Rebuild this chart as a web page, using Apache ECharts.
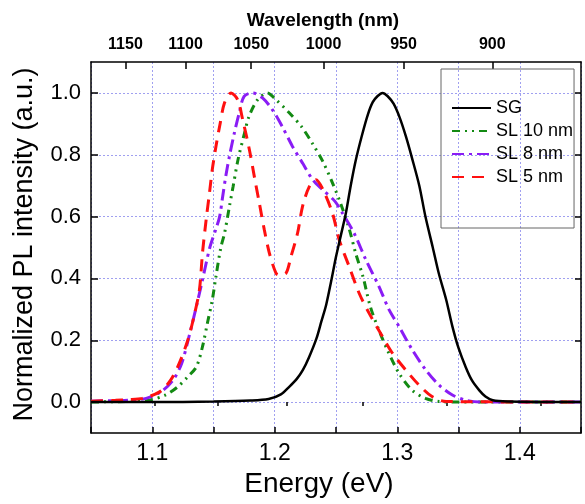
<!DOCTYPE html>
<html>
<head>
<meta charset="utf-8">
<script src="https://cdn.jsdelivr.net/npm/echarts@6/dist/echarts.min.js"></script>
<style>html,body{margin:0;padding:0;background:#fff}#c{width:585px;height:504px}</style>
</head>
<body>
<div id="c"></div>
<script>
// ---- data ----
var seriesNames = ['SG', 'SL 10 nm', 'SL 8 nm', 'SL 5 nm'];

var sgE = [1.05,1.10,1.15,1.18,1.195,1.205,1.212,1.218,1.223,1.228,1.234,1.238,1.242,1.246,1.250,1.254,1.258,1.262,1.266,1.271,1.276,1.280,1.284,1.288,1.292,1.297,1.302,1.307,1.312,1.318,1.323,1.329,1.334,1.340,1.345,1.350,1.356,1.361,1.367,1.372,1.378,1.39,1.45];
var sgI = [0.0,0.0,0.002,0.005,0.01,0.025,0.05,0.075,0.104,0.145,0.205,0.26,0.315,0.39,0.47,0.54,0.61,0.70,0.78,0.86,0.93,0.97,0.99,1.0,0.99,0.965,0.92,0.86,0.79,0.70,0.60,0.50,0.415,0.33,0.245,0.175,0.112,0.07,0.038,0.018,0.006,0.002,0.0];

var sl10E = [1.05,1.08,1.09,1.098,1.111,1.121,1.129,1.136,1.141,1.145,1.149,1.152,1.156,1.159,1.163,1.166,1.170,1.175,1.179,1.186,1.194,1.201,1.212,1.222,1.231,1.239,1.247,1.254,1.261,1.266,1.272,1.278,1.285,1.292,1.3015,1.312,1.323,1.334,1.35,1.45];
var sl10I = [0.0,0.002,0.003,0.006,0.023,0.05,0.082,0.114,0.179,0.255,0.33,0.406,0.50,0.546,0.633,0.697,0.784,0.865,0.924,0.978,1.0,0.978,0.935,0.89,0.835,0.78,0.71,0.64,0.557,0.482,0.406,0.309,0.233,0.168,0.093,0.039,0.012,0.002,0.0,0.0];

var sl8E = [1.05,1.07,1.08,1.095,1.107,1.117,1.124,1.130,1.136,1.141,1.147,1.152,1.155,1.1575,1.160,1.163,1.167,1.171,1.175,1.182,1.190,1.198,1.206,1.2145,1.2227,1.231,1.239,1.249,1.2553,1.2648,1.2744,1.2852,1.2934,1.3015,1.3124,1.3233,1.3341,1.345,1.356,1.37,1.45];
var sl8I = [0.003,0.005,0.006,0.012,0.033,0.071,0.125,0.212,0.309,0.395,0.50,0.56,0.60,0.665,0.73,0.795,0.87,0.935,0.989,1.0,0.984,0.946,0.892,0.827,0.773,0.719,0.687,0.65,0.611,0.546,0.46,0.373,0.298,0.244,0.168,0.104,0.055,0.023,0.006,0.0,0.0];

var sl5E = [1.05,1.07,1.08,1.092,1.106,1.115,1.122,1.129,1.134,1.1385,1.141,1.144,1.1467,1.149,1.152,1.155,1.159,1.1643,1.1697,1.1738,1.1793,1.1833,1.1874,1.1915,1.1956,1.201,1.2037,1.2092,1.2132,1.2186,1.2227,1.2282,1.2336,1.239,1.2471,1.2526,1.2608,1.2689,1.2771,1.2879,1.2961,1.3069,1.3178,1.3287,1.34,1.45];
var sl5I = [0.003,0.006,0.008,0.012,0.033,0.071,0.125,0.2,0.276,0.363,0.482,0.59,0.676,0.752,0.827,0.892,0.968,1.0,0.978,0.914,0.816,0.73,0.644,0.557,0.482,0.417,0.411,0.417,0.47,0.546,0.633,0.697,0.719,0.69,0.611,0.525,0.438,0.352,0.287,0.212,0.158,0.104,0.055,0.017,0.002,0.0];

var energyLabels = [1.1, 1.2, 1.3, 1.4];
var intensityLabels = [0.0, 0.2, 0.4, 0.6, 0.8, 1.0];
var wavelengthLabels = [1150, 1100, 1050, 1000, 950, 900];
var wavelengthMinorTicks = [1125, 1075, 1025, 975, 925, 875];

// ---- helpers ----
var HC = 1239.84; // eV*nm
function toE(l) { return HC / l; }
function zip(a, b) { return a.map(function (v, i) { return [v, b[i]]; }); }

var FONT = 'Liberation Sans, Arial, sans-serif';
var gridLine = { show: true, lineStyle: { color: '#a0a0f0', width: 1, type: [2, 2] } };
var frame = { show: true, onZero: false, lineStyle: { color: '#000', width: 1.5 } };

var chart = echarts.init(document.getElementById('c'), null, { renderer: 'canvas' });
chart.setOption({
  animation: false,
  backgroundColor: '#fff',
  grid: { left: 91, top: 62, right: 4, bottom: 71, containLabel: false },
  legend: {
    orient: 'vertical',
    left: 441, top: 69,
    padding: [30, 1, 42, 10],
    itemWidth: 39, itemHeight: 14, itemGap: 5,
    borderColor: '#666', borderWidth: 1,
    itemStyle: { opacity: 0 },
    textStyle: { fontFamily: FONT, fontSize: 18, color: '#000', lineHeight: 18 },
    data: seriesNames
  },
  xAxis: [
    {
      type: 'value', position: 'bottom', min: 1.05, max: 1.45, interval: 0.05,
      axisLine: frame,
      axisTick: { show: true, inside: true, length: 6, lineStyle: { color: '#000', width: 1.5 } },
      axisLabel: { customValues: energyLabels, formatter: function (v) { return v.toFixed(1); },
                   fontFamily: FONT, fontSize: 23, color: '#000', margin: 9 },
      splitLine: gridLine,
      name: 'Energy (eV)', nameLocation: 'middle', nameGap: 28,
      nameTextStyle: { fontFamily: FONT, fontSize: 28, color: '#000', padding: [0, 34, 0, 0] }
    },
    {
      type: 'value', position: 'top', min: 1.05, max: 1.45,
      axisLine: frame,
      axisTick: { show: true, inside: true, length: 7, customValues: wavelengthLabels.map(toE),
                  lineStyle: { color: '#000', width: 1.5 } },
      axisLabel: { customValues: wavelengthLabels.map(toE),
                   formatter: function (v) { return String(Math.round(HC / v)); },
                   fontFamily: FONT, fontSize: 16, fontWeight: 'bold', color: '#000', margin: 9 },
      splitLine: { show: false },
      name: 'Wavelength (nm)', nameLocation: 'middle', nameGap: 32,
      nameTextStyle: { fontFamily: FONT, fontSize: 19, fontWeight: 'bold', color: '#000', padding: [0, 26, 0, 0] }
    },
    {
      type: 'value', position: 'top', min: 1.05, max: 1.45,
      axisLine: { show: false },
      axisTick: { show: true, inside: true, length: 4, customValues: wavelengthMinorTicks.map(toE),
                  lineStyle: { color: '#000', width: 1.5 } },
      axisLabel: { show: false },
      splitLine: { show: false }
    }
  ],
  yAxis: [
    {
      type: 'value', position: 'left', min: -0.1, max: 1.1, interval: 0.1,
      axisLine: frame,
      axisTick: { show: true, inside: true, length: 7, customValues: intensityLabels,
                  lineStyle: { color: '#000', width: 1.5 } },
      axisLabel: { customValues: intensityLabels, formatter: function (v) { return v.toFixed(1); },
                   fontFamily: FONT, fontSize: 22, color: '#000', margin: 10 },
      splitLine: gridLine,
      name: 'Normalized PL intensity (a.u.)', nameLocation: 'middle', nameGap: 53,
      nameTextStyle: { fontFamily: FONT, fontSize: 27, color: '#000', padding: [0, 0, 0, 6] }
    },
    {
      type: 'value', position: 'right', min: -0.1, max: 1.1,
      axisLine: frame,
      axisTick: { show: true, inside: true, length: 6, customValues: intensityLabels,
                  lineStyle: { color: '#000', width: 1.5 } },
      axisLabel: { show: false },
      splitLine: { show: false }
    }
  ],
  series: [
    { name: 'SG', type: 'line', data: zip(sgE, sgI), showSymbol: false, symbol: 'none', smooth: 0.3, z: 5,
      lineStyle: { color: '#000000', width: 2.5, type: 'solid' }, itemStyle: { color: '#000000' } },
    { name: 'SL 10 nm', type: 'line', data: zip(sl10E, sl10I), showSymbol: false, symbol: 'none', smooth: 0.3, z: 4,
      lineStyle: { color: '#138a13', width: 3, type: [8, 5, 2, 5, 2, 5] }, itemStyle: { color: '#138a13' } },
    { name: 'SL 8 nm', type: 'line', data: zip(sl8E, sl8I), showSymbol: false, symbol: 'none', smooth: 0.3, z: 4,
      lineStyle: { color: '#8a1cf5', width: 3, type: [12, 5, 3, 5] }, itemStyle: { color: '#8a1cf5' } },
    { name: 'SL 5 nm', type: 'line', data: zip(sl5E, sl5I), showSymbol: false, symbol: 'none', smooth: 0.3, z: 4,
      lineStyle: { color: '#ff1010', width: 3, type: [12, 8] }, itemStyle: { color: '#ff1010' } }
  ]
});
</script>
</body>
</html>
